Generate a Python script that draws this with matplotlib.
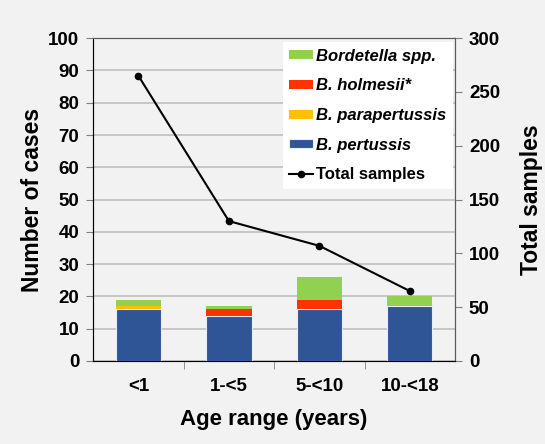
import matplotlib.pyplot as plt
import numpy as np

plt.rcParams['font.family'] = ['Liberation Sans', 'DejaVu Sans']
plt.rcParams['font.weight'] = 'bold'

ages = ['<1', '1-<5', '5-<10', '10-<18']
pertussis = [16, 14, 16, 17]
parapertussis = [1, 0, 0, 0]
holmesii = [0, 2, 3, 0]
spp = [2, 1, 7, 3]
total_samples = [265, 130, 107, 65]

bg = '#f2f2f2'
fig = plt.figure(figsize=(5.45, 4.44), dpi=100, facecolor=bg)
ax = fig.add_axes([0.171, 0.187, 0.664, 0.727])
ax.set_facecolor(bg)
x = np.arange(len(ages))

b1 = np.array(pertussis)
b2 = b1 + np.array(parapertussis)
b3 = b2 + np.array(holmesii)
h1 = ax.bar(x, pertussis, 0.5, color='#2f5597', edgecolor='#e8edf5', linewidth=0.8, zorder=3)
h2 = ax.bar(x, parapertussis, 0.5, bottom=b1, color='#ffc000', zorder=3)
h3 = ax.bar(x, holmesii, 0.5, bottom=b2, color='#ff3300', zorder=3)
h4 = ax.bar(x, spp, 0.5, bottom=b3, color='#92d050', zorder=3)

ax.set_xlim(-0.5, 3.5)
ax.set_ylim(0, 100)
ax.set_yticks(range(0, 101, 10))
ax.grid(axis='y', color='#bfbfbf', linewidth=1.2, zorder=0)
ax.set_xticks(x)
ax.set_xticklabels(ages)
ax.set_xticks(np.arange(0.5, 3.5, 1), minor=True)
ax.tick_params(axis='x', which='major', length=0, pad=12, labelsize=13.5)
ax.tick_params(axis='x', which='minor', length=6, direction='out', color='#808080')
ax.tick_params(axis='y', length=5, labelsize=13.5, color='#808080', pad=5)
ax.set_ylabel('Number of cases', fontsize=16.5, fontweight='bold', labelpad=3)
ax.set_xlabel('Age range (years)', fontsize=16, fontweight='bold', labelpad=10)
ax.spines['top'].set_color('#595959')
ax.spines['left'].set_color('#595959')
ax.spines['bottom'].set_color('#808080')
ax.spines['right'].set_color('#595959')

ax2 = ax.twinx()
ln, = ax2.plot(x, total_samples, color='black', marker='o', markersize=4.5, linewidth=1.5, zorder=4)
ax2.set_ylim(0, 300)
ax2.set_yticks(range(0, 301, 50))
ax2.tick_params(axis='y', length=5, labelsize=13.5, color='#808080', pad=5)
ax2.set_ylabel('Total samples', fontsize=16.5, fontweight='bold', labelpad=14)
ax2.spines['right'].set_color('#595959')
ax2.spines['top'].set_color('#595959')

leg = ax2.legend([h4, h3, h2, h1, ln], ['Bordetella spp.', 'B. holmesii*', 'B. parapertussis', 'B. pertussis', 'Total samples'],
                 loc='upper right', bbox_to_anchor=(0.994, 0.988), borderaxespad=0, frameon=True, fancybox=False,
                 edgecolor='none', facecolor='white', framealpha=1, fontsize=12,
                 handlelength=1.4, handleheight=0.45, handletextpad=0.2, labelspacing=0.88, borderpad=0.4)
for t in leg.get_texts()[:4]:
    t.set_style('italic')
for t in leg.get_texts():
    t.set_fontweight('bold')

fig.savefig('out.png', dpi=100, facecolor=bg)
